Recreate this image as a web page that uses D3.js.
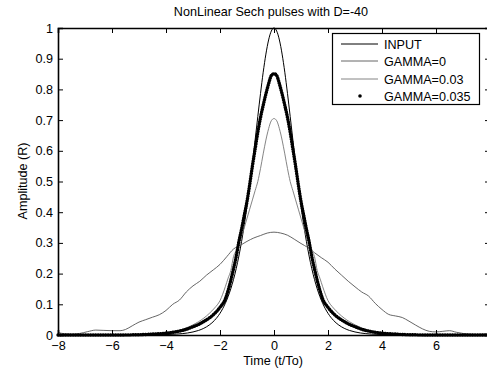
<!DOCTYPE html>
<html><head><meta charset="utf-8">
<script src="https://cdn.jsdelivr.net/npm/d3@7"></script>
<style>
html,body{margin:0;padding:0;background:#fff;}
text{font-family:"Liberation Sans",Arial,sans-serif;fill:#000;}
</style></head>
<body><svg id="c" width="487" height="369"></svg>
<script>
const titleText = "NonLinear Sech pulses with D=-40";
const xLabel = "Time (t/To)";
const yLabel = "Amplitude (R)";
const xTicks = [-8,-6,-4,-2,0,2,4,6];
const yTicks = [0,0.1,0.2,0.3,0.4,0.5,0.6,0.7,0.8,0.9,1];
const seriesNames = ["INPUT","GAMMA=0","GAMMA=0.03","GAMMA=0.035"];

// shared time grid for the narrow pulses
const tNarrow = [-8,-7,-6,-5,-4.5,-4,-3.6,-3.2,-3,-2.8,-2.6,-2.4,-2.2,-2,-1.8,-1.7,-1.6,-1.5,-1.4,-1.3,-1.2,-1.1,-1,-0.9,-0.8,-0.7,-0.6,-0.5,-0.4,-0.3,-0.2,-0.1,0,
  0.1,0.2,0.3,0.4,0.5,0.6,0.7,0.8,0.9,1,1.1,1.2,1.3,1.4,1.5,1.6,1.7,1.8,2,2.2,2.4,2.6,2.8,3,3.2,3.6,4,4.5,5,6,7,8];

const inputVals = [0,0,0,0,0.0005,0.0013,0.003,0.0066,0.0099,0.0147,0.0218,0.0324,0.0479,0.0707,0.1036,0.125,0.1505,0.1807,0.2161,0.2574,0.305,0.3592,0.42,0.4869,0.5591,0.6347,0.7116,0.7864,0.856,0.915,0.961,0.99,1,
  0.99,0.961,0.915,0.856,0.7864,0.7116,0.6347,0.5591,0.4869,0.42,0.3592,0.305,0.2574,0.2161,0.1807,0.1505,0.125,0.1036,0.0707,0.0479,0.0324,0.0218,0.0147,0.0099,0.0066,0.003,0.0013,0.0005,0,0,0,0];

const gamma003Vals = [0.001,0.001,0.001,0.002,0.004,0.007,0.013,0.025,0.033,0.043,0.055,0.07,0.088,0.112,0.158,0.185,0.21,0.255,0.275,0.298,0.322,0.35,0.38,0.41,0.44,0.47,0.5,0.542,0.59,0.635,0.672,0.698,0.705,
  0.698,0.672,0.635,0.59,0.542,0.5,0.47,0.44,0.41,0.38,0.35,0.322,0.298,0.275,0.255,0.21,0.185,0.158,0.112,0.088,0.07,0.055,0.043,0.033,0.025,0.013,0.007,0.004,0.002,0.001,0.001,0.001];

const gamma0035Vals = [0,0,0,0.001,0.003,0.006,0.011,0.02,0.027,0.034,0.044,0.055,0.07,0.09,0.118,0.145,0.178,0.215,0.255,0.304,0.345,0.39,0.435,0.49,0.55,0.605,0.66,0.708,0.748,0.785,0.818,0.845,0.851,
  0.845,0.818,0.785,0.748,0.708,0.66,0.605,0.55,0.49,0.435,0.39,0.345,0.304,0.255,0.215,0.178,0.145,0.118,0.09,0.07,0.055,0.044,0.034,0.027,0.02,0.011,0.006,0.003,0.001,0,0,0];

// broad, noisy GAMMA=0 pulse
const tBroad = [-8,-7.75,-7.5,-7.2,-6.9,-6.6,-6.3,-6,-5.7,-5.5,-5.25,-5,-4.75,-4.5,-4.25,-4,-3.75,-3.5,-3.25,-3,-2.75,-2.5,-2.25,-2,-1.75,-1.5,-1.25,-1,-0.75,-0.5,-0.25,0,
  0.25,0.5,0.75,1,1.25,1.5,1.75,2,2.25,2.5,2.75,3,3.25,3.5,3.75,4,4.25,4.5,4.75,5,5.25,5.5,5.75,6,6.25,6.5,6.75,7,7.25,7.5,7.75,8];
const gamma0Vals = [0.008,0.004,0.003,0.005,0.011,0.016,0.015,0.014,0.014,0.018,0.03,0.042,0.05,0.058,0.066,0.08,0.1,0.114,0.14,0.16,0.175,0.195,0.212,0.23,0.255,0.28,0.292,0.305,0.316,0.324,0.332,0.335,
  0.332,0.325,0.312,0.298,0.285,0.268,0.252,0.237,0.215,0.195,0.175,0.157,0.14,0.127,0.103,0.083,0.067,0.062,0.057,0.045,0.032,0.02,0.012,0.01,0.012,0.014,0.009,0.005,0.003,0.002,0.003,0.004];

const svg = d3.select("#c");
const L = 58, R = 490, T = 28, B = 335;
const x = d3.scaleLinear().domain([-8,8]).range([L,R]);
const y = d3.scaleLinear().domain([0,1]).range([B,T]);

svg.append("rect").attr("width",487).attr("height",369).attr("fill","#fff");

const line = (ts) => d3.line().x((d,i)=>x(ts[i])).y(d=>y(d)).curve(d3.curveMonotoneX);

const g = svg.append("g");
g.append("path").attr("d", line(tNarrow)(inputVals)).attr("fill","none").attr("stroke","#000").attr("stroke-width",1);
g.append("path").attr("d", line(tBroad)(gamma0Vals)).attr("fill","none").attr("stroke","#555").attr("stroke-width",0.9);
g.append("path").attr("d", line(tNarrow)(gamma003Vals)).attr("fill","none").attr("stroke","#777").attr("stroke-width",0.9);
g.append("path").attr("d", line(tNarrow)(gamma0035Vals)).attr("fill","none").attr("stroke","#000")
  .attr("stroke-width",3.4).attr("stroke-linecap","round").attr("stroke-dasharray","0.3 2.2");

// axes (MATLAB-style box, ticks inward)
const fs = 12.6;
const ax = svg.append("g");
const xb = d3.axisBottom(x).tickValues(xTicks).tickSize(-5).tickPadding(6).tickFormat(d3.format("d"));
const xt = d3.axisTop(x).tickValues(xTicks).tickSize(-5).tickFormat("");
const yl = d3.axisLeft(y).tickValues(yTicks).tickSize(-5).tickPadding(5).tickFormat(d=>d===0?"0":d===1?"1":d3.format(".1f")(d));
const yr = d3.axisRight(y).tickValues(yTicks).tickSize(-5).tickFormat("");
function style(sel){ sel.select(".domain").attr("stroke","#000").attr("stroke-width",1.6);
  sel.selectAll(".tick line").attr("stroke","#000").attr("stroke-width",1);
  sel.selectAll("text").style("font-family","'Liberation Sans',Arial,sans-serif").style("font-size",fs+"px").attr("fill","#000"); }
ax.append("g").attr("transform",`translate(0,${B})`).call(xb).call(style);
ax.append("g").attr("transform",`translate(0,${T})`).call(xt).call(style);
ax.append("g").attr("transform",`translate(${L},0)`).call(yl).call(style);
ax.append("g").attr("transform",`translate(${R},0)`).call(yr).call(style);

svg.append("text").attr("x",271).attr("y",16).attr("text-anchor","middle").style("font-size",fs+"px").text(titleText);
svg.append("text").attr("x",273).attr("y",365).attr("text-anchor","middle").style("font-size",fs+"px").text(xLabel);
svg.append("text").attr("transform","translate(27,181) rotate(-90)").attr("text-anchor","middle").style("font-size",fs+"px").text(yLabel);

// legend
const lg = svg.append("g");
lg.append("rect").attr("x",332.5).attr("y",33.5).attr("width",147).attr("height",71).attr("fill","#fff").attr("stroke","#000").attr("stroke-width",1.2);
const legY = [44,61,79,96];
const legStroke = ["#000","#555","#777"];
seriesNames.forEach((nm,i)=>{
  if(i<3){
    lg.append("line").attr("x1",341).attr("x2",378).attr("y1",legY[i]).attr("y2",legY[i]).attr("stroke",legStroke[i]).attr("stroke-width",i===0?1:0.9);
  } else {
    lg.append("circle").attr("cx",360).attr("cy",legY[i]).attr("r",1.8).attr("fill","#000");
  }
  lg.append("text").attr("x",384).attr("y",legY[i]+4.5).style("font-size",fs+"px").text(nm);
});
</script></body></html>
